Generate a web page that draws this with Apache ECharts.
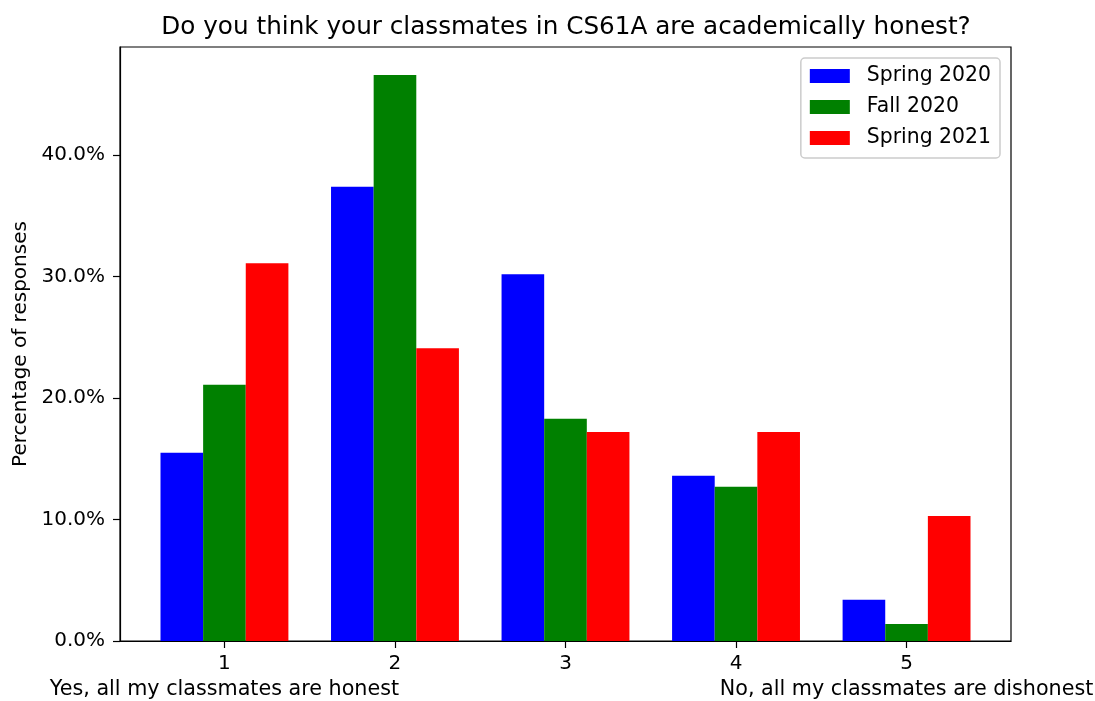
<!DOCTYPE html>
<html>
<head>
<meta charset="utf-8">
<script src="https://cdn.jsdelivr.net/npm/echarts@6/dist/echarts.min.js"></script>
<style>
  html, body { margin: 0; padding: 0; background: #fff; }
  #chart { width: 1095px; height: 701px; }
</style>
</head>
<body>
<div id="chart"></div>
<script>
// answer scale 1..5, three semesters
const categories = [1, 2, 3, 4, 5];
const endValues = [1, 5];
const endLabels = ["Yes, all my classmates are honest", "No, all my classmates are dishonest"];
const seriesNames = ["Spring 2020", "Fall 2020", "Spring 2021"];
const spring2020 = [15.5, 37.4, 30.2, 13.6, 3.4];
const fall2020 = [21.1, 46.6, 18.3, 12.7, 1.4];
const spring2021 = [31.1, 24.1, 17.2, 17.2, 10.3];
const colors = ["#0000ff", "#008000", "#ff0000"];
const yTicks = [0, 10, 20, 30, 40];

const barW = 0.25; // bar width in data units
const offsets = [-barW, 0, barW];
const xMin = 0.3875, xMax = 5.6125;

const gridLeft = 120, gridRight = 84;
const plotW = 1095 - gridLeft - gridRight;
const barPx = barW * plotW / (xMax - xMin);

const valuesList = [spring2020, fall2020, spring2021];

let myChart = echarts.init(document.getElementById("chart"));

let series = [];
for (let i = 0; i < seriesNames.length; i++) {
  series.push({
    name: seriesNames[i],
    type: "bar",
    barWidth: barPx,
    barGap: "-100%",
    itemStyle: { color: colors[i] },
    data: categories.map((c, j) => [c + offsets[i], valuesList[i][j]]),
  });
}

const labelFont = { fontFamily: "DejaVu Sans", fontSize: 20, color: "#000" };

myChart.setOption({
  animation: false,
  backgroundColor: "#fff",
  textStyle: { fontFamily: "DejaVu Sans", color: "#000" },
  title: {
    text: "Do you think your classmates in CS61A are academically honest?",
    left: 561,
    top: 10,
    textAlign: "center",
    textStyle: { fontFamily: "DejaVu Sans", fontSize: 24.7, fontWeight: "normal", color: "#000" },
  },
  legend: {
    right: 95,
    top: 58,
    orient: "vertical",
    itemWidth: 40,
    itemHeight: 14,
    itemGap: 11,
    padding: [8, 9, 10, 9],
    borderColor: "#cccccc",
    borderWidth: 1.5,
    borderRadius: 4,
    icon: "rect",
    selectedMode: false,
    textStyle: { fontFamily: "DejaVu Sans", fontSize: 20.4, color: "#000", padding: [0, 0, 0, 12] },
    data: seriesNames,
  },
  grid: {
    left: gridLeft,
    right: gridRight,
    top: 47,
    bottom: 60,
    show: true,
    borderColor: "#000",
    borderWidth: 1.2,
    backgroundColor: "transparent",
    outerBoundsMode: "none",
    containLabel: false,
  },
  xAxis: [
    {
      type: "value",
      min: xMin,
      max: xMax,
      splitLine: { show: false },
      axisLine: { lineStyle: { color: "#000", width: 1.2 } },
      axisTick: { show: true, length: 7, lineStyle: { color: "#000", width: 1.2 }, customValues: categories },
      axisLabel: Object.assign({
        customValues: categories,
        hideOverlap: false,
        margin: 13,
        formatter: function (v) {
          return String(Math.round(v));
        },
      }, labelFont),
    },
    {
      // second line of the end labels
      type: "value",
      position: "bottom",
      min: xMin,
      max: xMax,
      splitLine: { show: false },
      axisLine: { show: false },
      axisTick: { show: false, customValues: endValues },
      axisLabel: Object.assign({
        customValues: endValues,
        hideOverlap: false,
        margin: 38,
        formatter: function (v) {
          return endLabels[endValues.indexOf(Math.round(v))];
        },
      }, labelFont, { fontSize: 20.7 }),
    },
  ],
  yAxis: {
    type: "value",
    min: 0,
    max: 48.9,
    interval: 10,
    name: "Percentage of responses",
    nameLocation: "middle",
    nameGap: 88,
    nameTextStyle: labelFont,
    splitLine: { show: false },
    axisLine: { show: true, lineStyle: { color: "#000", width: 1.2 } },
    axisTick: { show: true, length: 7, lineStyle: { color: "#000", width: 1.2 }, customValues: yTicks },
    axisLabel: Object.assign({
      customValues: yTicks,
      margin: 15,
      formatter: function (v) {
        return v.toFixed(1) + "%";
      },
    }, labelFont),
  },
  series: series,
});
</script>
</body>
</html>
